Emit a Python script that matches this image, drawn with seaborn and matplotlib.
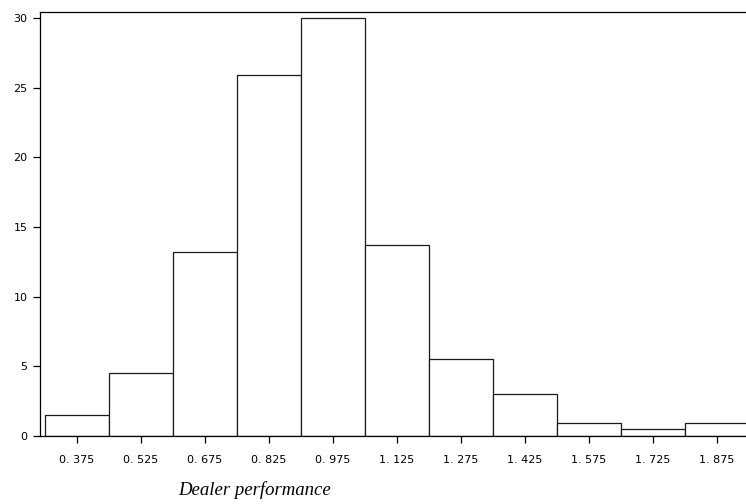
import matplotlib
matplotlib.use("Agg")
import matplotlib.pyplot as plt
import seaborn as sns

# bin centres and bar heights
bin_centers = [0.375, 0.525, 0.675, 0.825, 0.975, 1.125, 1.275, 1.425, 1.575, 1.725, 1.875]
bar_heights = [1.5, 4.55, 13.2, 25.9, 30.0, 13.7, 5.55, 3.0, 0.95, 0.5, 0.95]
x_tick_labels = ["0. 375", "0. 525", "0. 675", "0. 825", "0. 975", "1. 125",
                 "1. 275", "1. 425", "1. 575", "1. 725", "1. 875"]
y_ticks = [0, 5, 10, 15, 20, 25, 30]
bin_width = 0.15

sns.set_style("ticks")
plt.rcParams['font.family'] = ['DejaVu Sans']

fig = plt.figure(figsize=(7.46, 5.04), dpi=100)
ax = fig.add_axes([40 / 746, 1 - 436 / 504, 1 - 40 / 746, (436 - 12) / 504])

sns.histplot(x=bin_centers, weights=bar_heights, binwidth=bin_width,
             binrange=(bin_centers[0] - bin_width / 2, bin_centers[-1] + bin_width / 2),
             color="white", edgecolor="#1a1a1a", linewidth=0.9, alpha=1, ax=ax)

ax.set_xlim(0.288, 1.943)
ax.set_ylim(0, 30.43)
ax.set_xticks(bin_centers)
ax.set_xticklabels(x_tick_labels)
ax.set_yticks(y_ticks)
ax.tick_params(axis='x', length=5, width=0.9, pad=9, labelsize=8,
               color='black', labelcolor='black')
ax.tick_params(axis='y', length=5, width=0.9, pad=4, labelsize=8,
               color='black', labelcolor='black')
ax.set_xlabel("")
ax.set_ylabel("")

for side in ['left', 'top', 'bottom']:
    ax.spines[side].set_linewidth(0.9)
    ax.spines[side].set_color("black")
ax.spines['right'].set_visible(False)

fig.text(255 / 746, 1 - 490 / 504, "Dealer performance", ha='center', va='center',
         fontsize=13.5, style='italic', family='Liberation Serif', color='black')

fig.savefig("out.png", dpi=100)
